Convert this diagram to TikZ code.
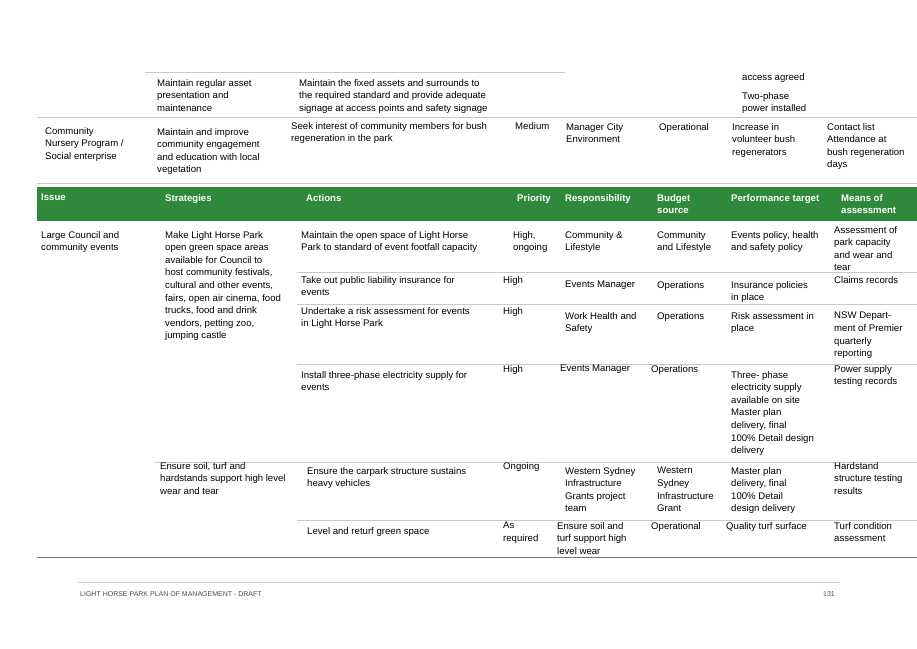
\documentclass[tikz,border=0pt]{standalone}
\usepackage{fontspec}
\setmainfont{Liberation Sans}
\definecolor{hdr}{RGB}{46,137,58}
\definecolor{rule}{RGB}{200,200,200}
\tikzset{
 txt/.style={anchor=north west,inner sep=0pt,align=left,font=\fontsize{9.6}{12.6}\selectfont},
 htxt/.style={txt,text=white,font=\fontsize{9.6}{12.6}\selectfont\bfseries},
 rl/.style={draw=rule,line width=0.8pt},
 foot/.style={anchor=north west,inner sep=0pt,font=\fontsize{7}{8}\selectfont,text=black!70}
}
\begin{document}
\begin{tikzpicture}[x=1pt,y=-1pt]
\useasboundingbox[fill=white] (0,0) rectangle (917,648);
% rules
\draw[rl] (145,72) -- (565,72);
\draw[rl] (37,117) -- (917,117);
\draw[rl] (37,183) -- (917,183);
\fill[hdr] (37,187) rectangle (917,221);
\draw[rl] (297,272) -- (917,272);
\draw[rl] (297,304) -- (917,304);
\draw[rl] (297,364) -- (917,364);
\draw[rl] (155,462) -- (917,462);
\draw[rl] (297,520) -- (917,520);
\draw[draw=black!55,line width=0.8pt] (37,557) -- (917,557);
\draw[rl] (78,582) -- (840,582);
% top rows
\node[txt] (a1) at (157,79) {Maintain regular asset\\presentation and\\maintenance};
\node[txt] (a2) at (299,79) {Maintain the fixed assets and surrounds to\\the required standard and provide adequate\\signage at access points and safety signage};
\node[txt] (a3) at (742,73) {access agreed};
\node[txt] (a4) at (742,92) {Two-phase\\power installed};
\node[txt] (b1) at (45,127) {Community\\Nursery Program /\\Social enterprise};
\node[txt] (b2) at (157,128) {Maintain and improve\\community engagement\\and education with local\\vegetation};
\node[txt] (b3) at (291,122) {Seek interest of community members for bush\\regeneration in the park};
\node[txt] (b4) at (515,122) {Medium};
\node[txt] (b5) at (566,123) {Manager City\\Environment};
\node[txt] (b6) at (659,123) {Operational};
\node[txt] (b7) at (732,123) {Increase in\\volunteer bush\\regenerators};
\node[txt] (b8) at (827,123) {Contact list\\Attendance at\\bush regeneration\\days};
% header
\node[htxt] (h1) at (41,194) {Issue};
\node[htxt] (h2) at (165,194) {Strategies};
\node[htxt] (h3) at (306,194) {Actions};
\node[htxt,anchor=north east] (h4) at (551,194) {Priority};
\node[htxt] (h5) at (565,194) {Responsibility};
\node[htxt] (h6) at (657,194) {Budget\\source};
\node[htxt] (h7) at (731,194) {Performance target};
\node[htxt] (h8) at (841,194) {Means of\\assessment};
% row 1
\node[txt] (c1) at (41,231) {Large Council and\\community events};
\node[txt] (c2) at (165,231) {Make Light Horse Park\\open green space areas\\available for Council to\\host community festivals,\\cultural and other events,\\fairs, open air cinema, food\\trucks, food and drink\\vendors, petting zoo,\\jumping castle};
\node[txt] (c3) at (301,231) {Maintain the open space of Light Horse\\Park to standard of event footfall capacity};
\node[txt] (c4) at (513,231) {High,\\ongoing};
\node[txt] (c5) at (565,231) {Community \&\\Lifestyle};
\node[txt] (c6) at (657,231) {Community\\and Lifestyle};
\node[txt] (c7) at (731,231) {Events policy, health\\and safety policy};
\node[txt] (c8) at (834,226) {Assessment of\\park capacity\\and wear and\\tear};
% row 2
\node[txt] (d3) at (301,276) {Take out public liability insurance for\\events};
\node[txt] (d4) at (503,276) {High};
\node[txt] (d5) at (565,281) {Events Manager};
\node[txt] (d6) at (657,281) {Operations};
\node[txt] (d7) at (731,281) {Insurance policies\\in place};
\node[txt] (d8) at (834,276) {Claims records};
% row 3
\node[txt] (e3) at (301,307) {Undertake a risk assessment for events\\in Light Horse Park};
\node[txt] (e4) at (503,307) {High};
\node[txt] (e5) at (565,312) {Work Health and\\Safety};
\node[txt] (e6) at (657,312) {Operations};
\node[txt] (e7) at (731,312) {Risk assessment in\\place};
\node[txt] (e8) at (834,312) {NSW Depart-\\ment of Premier\\quarterly\\reporting};
% row 4
\node[txt] (f3) at (301,371) {Install three-phase electricity supply for\\events};
\node[txt] (f4) at (503,365) {High};
\node[txt] (f5) at (560,365) {Events Manager};
\node[txt] (f6) at (651,365) {Operations};
\node[txt] (f7) at (731,371) {Three- phase\\electricity supply\\available on site\\Master plan\\delivery, final\\100\% Detail design\\delivery};
\node[txt] (f8) at (834,365) {Power supply\\testing records};
% row 5
\node[txt] (g2) at (160,462) {Ensure soil, turf and\\hardstands support high level\\wear and tear};
\node[txt] (g3) at (307,467) {Ensure the carpark structure sustains\\heavy vehicles};
\node[txt] (g4) at (503,462) {Ongoing};
\node[txt] (g5) at (565,467) {Western Sydney\\Infrastructure\\Grants project\\team};
\node[txt] (g6) at (657,467) {Western\\Sydney\\Infrastructure\\Grant};
\node[txt] (g7) at (731,467) {Master plan\\delivery, final\\100\% Detail\\design delivery};
\node[txt] (g8) at (834,462) {Hardstand\\structure testing\\results};
% row 6
\node[txt] (k3) at (307,527) {Level and returf green space};
\node[txt] (k4) at (503,522) {As\\required};
\node[txt] (k5) at (557,522) {Ensure soil and\\turf support high\\level wear};
\node[txt] (k6) at (651,522) {Operational};
\node[txt] (k7) at (726,522) {Quality turf surface};
\node[txt] (k8) at (834,522) {Turf condition\\assessment};
% footer
\node[foot] (ft) at (80,591) {LIGHT HORSE PARK PLAN OF MANAGEMENT - DRAFT};
\node[foot,anchor=north east] (pg) at (835,591) {131};
\end{tikzpicture}
\end{document}
